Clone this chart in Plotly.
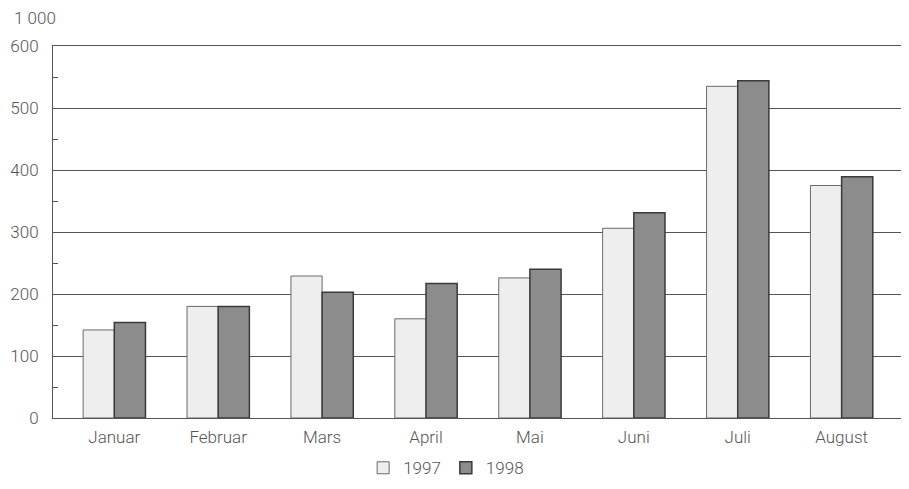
import plotly.graph_objects as go

months = ["Januar", "Februar", "Mars", "April", "Mai", "Juni", "Juli", "August"]
v1997 = [142, 180, 229, 160, 226, 306, 535, 375]
v1998 = [154, 180, 203, 217, 240, 331, 544, 389]
y_ticks = [0, 100, 200, 300, 400, 500, 600]
unit_label = "1 000"

FONT = "Roboto, Liberation Sans, Arial, sans-serif"
TXT = "#555555"
FS = 17

fig = go.Figure()
fig.add_trace(go.Bar(x=months, y=v1997, name="1997",
                     marker=dict(color="#eeeeee", line=dict(color="#6a6a6a", width=1))))
fig.add_trace(go.Bar(x=months, y=v1998, name="1998",
                     marker=dict(color="#8c8c8c", line=dict(color="#3a3a3a", width=1.5))))

fig.update_layout(
    width=901, height=481,
    margin=dict(l=45, r=4, t=38, b=71, autoexpand=False),
    plot_bgcolor="white", paper_bgcolor="white",
    barmode="group", bargap=0.4, bargroupgap=0,
    font=dict(family=FONT, size=FS, color=TXT, weight=300),
    showlegend=True,
    legend=dict(orientation="h", x=0.364, xanchor="left", y=-0.135, yanchor="middle",
                font=dict(size=FS, color=TXT, family=FONT, weight=300),
                itemwidth=30, traceorder="normal"),
    annotations=[dict(text=unit_label, xref="paper", yref="paper", x=-0.048, y=1.075,
                      xanchor="left", yanchor="middle", showarrow=False,
                      font=dict(size=FS, color=TXT, family=FONT, weight=300))],
)
fig.update_xaxes(range=[-0.59, 7.61], showline=True, linecolor="#555", linewidth=1,
                 mirror=True, ticks="", showgrid=False, ticklabelstandoff=4,
                 tickfont=dict(size=FS, color=TXT, family=FONT, weight=300))
fig.update_yaxes(range=[0, 600], tickvals=y_ticks, showgrid=True, gridcolor="#555",
                 gridwidth=1, showline=True, linecolor="#555", linewidth=1, mirror=True,
                 ticks="", ticklabelstandoff=10, zeroline=False,
                 minor=dict(tickvals=[50, 150, 250, 350, 450, 550], ticks="inside",
                            ticklen=5, tickcolor="#555", showgrid=False),
                 tickfont=dict(size=FS, color=TXT, family=FONT, weight=300))

fig.write_html("out.html")
